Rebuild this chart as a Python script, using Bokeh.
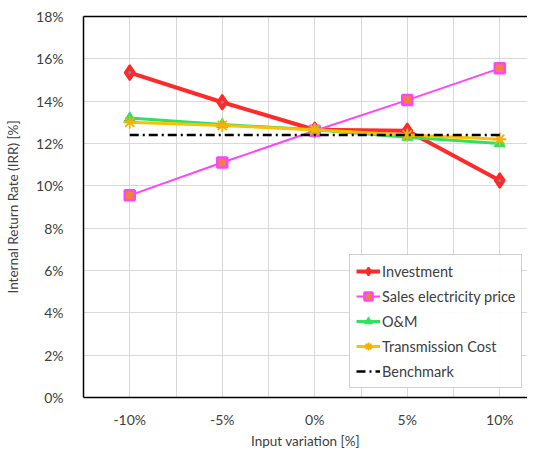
from bokeh.plotting import figure
from bokeh.models import (FixedTicker, PrintfTickFormatter, Legend, LegendItem,
                          LinearAxis, Range1d)
from bokeh.embed import file_html
from bokeh.resources import INLINE

variation = [-10, -5, 0, 5, 10]
investment = [15.35, 13.95, 12.65, 12.6, 10.25]
sales_price = [9.55, 11.1, 12.6, 14.05, 15.55]
om = [13.2, 12.9, 12.65, 12.3, 12.0]
transmission = [13.0, 12.85, 12.65, 12.4, 12.2]
benchmark = [12.4, 12.4, 12.4, 12.4, 12.4]

x_ticks = [-10, -5, 0, 5, 10]
x_minor = [-12.5, -7.5, -2.5, 2.5, 7.5, 12.5]
y_ticks = [0, 2, 4, 6, 8, 10, 12, 14, 16, 18]

FONT = "Lato"
TXT = "#404040"

p = figure(width=527, height=451, output_backend="svg", toolbar_location=None,
           x_range=Range1d(-12.5, 11.5), y_range=Range1d(0, 18),
           min_border_left=83, min_border_top=16, min_border_bottom=40, min_border_right=0)
p.outline_line_color = None
p.background_fill_color = "white"
p.border_fill_color = "white"

p.xaxis.ticker = FixedTicker(ticks=x_ticks, minor_ticks=x_minor)
p.yaxis.ticker = FixedTicker(ticks=y_ticks)
p.xgrid.grid_line_color = "#d9d9d9"
p.xgrid.minor_grid_line_color = "#d9d9d9"
p.ygrid.grid_line_color = "#d9d9d9"

for ax in (p.xaxis[0], p.yaxis[0]):
    ax.major_tick_line_color = None
    ax.minor_tick_line_color = None
    ax.axis_line_color = "black"
    ax.axis_line_width = 1.5
    ax.major_label_text_font = FONT
    ax.major_label_text_font_size = "14px"
    ax.major_label_text_color = TXT
    ax.axis_label_text_font = FONT
    ax.axis_label_text_font_size = "13.5px"
    ax.axis_label_text_color = TXT
    ax.axis_label_text_font_style = "normal"
    ax.formatter = PrintfTickFormatter(format="%d%%")

p.xaxis.axis_label = "Input variation [%]"
p.yaxis.axis_label = "Internal Return Rate (IRR) [%]"
p.xaxis.major_label_standoff = 7
p.xaxis.axis_label_standoff = 2
p.yaxis.major_label_standoff = 14
p.yaxis.axis_label_standoff = 12

top = LinearAxis(ticker=FixedTicker(ticks=[]), axis_line_color="black", axis_line_width=1.5,
                 major_tick_line_color=None, minor_tick_line_color=None,
                 major_label_text_font_size="0px")
p.add_layout(top, "above")

items = []

r1 = p.line(variation, investment, line_color="#ff2a2a", line_width=4)
m1 = p.scatter(variation, investment, marker="diamond", size=15, fill_color="#ff2a2a",
               line_color="#ff2a2a", line_width=2)
d1 = p.scatter(variation, investment, marker="circle", size=3, fill_color="#7a86b0",
               line_color=None)
items.append(LegendItem(label="Investment", renderers=[r1, m1]))

r2 = p.line(variation, sales_price, line_color="#ff44ff", line_width=2)
m2 = p.scatter(variation, sales_price, marker="square", size=10, fill_color="#f08040",
               line_color="#ff44ff", line_width=2.5)
items.append(LegendItem(label="Sales electricity price", renderers=[r2, m2]))

r3 = p.line(variation, om, line_color="#30e060", line_width=3)
m3 = p.scatter(variation, om, marker="triangle", size=11, fill_color="#30e060",
               line_color="#30e060", line_width=1)
items.append(LegendItem(label="O&M", renderers=[r3, m3]))

r4 = p.line(variation, transmission, line_color="#ffc000", line_width=3)
m4 = p.scatter(variation, transmission, marker="asterisk", size=13,
               line_color="#f5b000", line_width=1.8)
items.append(LegendItem(label="Transmission Cost", renderers=[r4, m4]))

r5 = p.line(variation, benchmark, line_color="black", line_width=2.5, line_dash="9 4 2 4")
items.append(LegendItem(label="Benchmark", renderers=[r5]))

legend = Legend(items=items, location=(266, 9), label_text_font=FONT,
                label_text_font_size="14.5px", label_text_color=TXT,
                glyph_width=24, glyph_height=20, spacing=5, label_standoff=2,
                padding=6, margin=0, border_line_color="#a0a0a0", border_line_width=1.5,
                label_height=20)
p.add_layout(legend, "center")

open("out.html", "w").write(file_html(p, INLINE))
